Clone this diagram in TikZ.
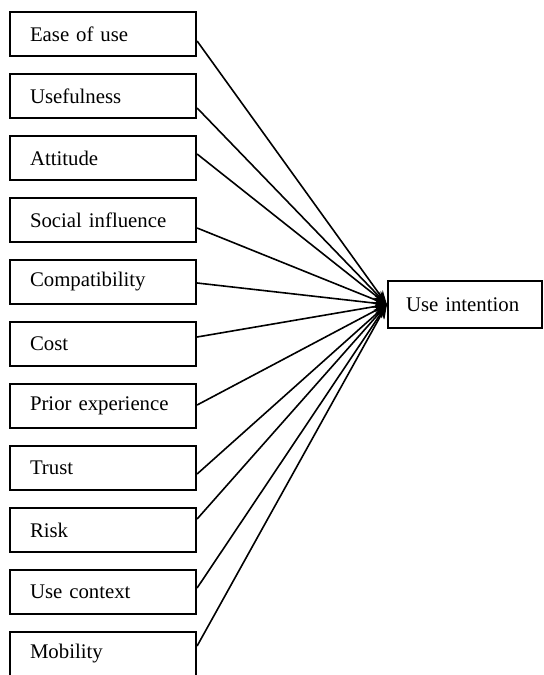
\documentclass[tikz,border=0pt]{standalone}
\usepackage{fontspec}
\setmainfont{Liberation Serif}
\usetikzlibrary{arrows.meta}

\begin{document}
\begin{tikzpicture}[
        x=0.5pt, y=-0.5pt,
        factor/.style={rectangle, draw, line width=1.1pt, minimum width=93pt, minimum height=22pt, inner xsep=10pt, text width=73pt, align=left, font=\fontsize{10.4}{12}\selectfont},
        outcome/.style={rectangle, draw, line width=1.1pt, minimum width=77pt, minimum height=23.5pt, inner xsep=9pt, text width=59pt, align=left, font=\fontsize{10.4}{12}\selectfont},
        arrow/.style={-{Stealth[length=7pt, width=5pt]}, line width=0.8pt}
    ]
        \clip (0,0) rectangle (544,675);

        \node[factor] (ease) at (103,34) {Ease of use};
        \node[factor] (usef) at (103,96) {Usefulness};
        \node[factor] (att) at (103,158) {Attitude};
        \node[factor] (soc) at (103,220) {Social influence};
        \node[factor] (comp) at (103,282) {Compatibility};
        \node[factor] (cost) at (103,344) {Cost};
        \node[factor] (prior) at (103,406) {Prior experience};
        \node[factor] (trust) at (103,468) {Trust};
        \node[factor] (risk) at (103,530) {Risk};
        \node[factor] (ctx) at (103,592) {Use context};
        \node[factor] (mob) at (103,654) {Mobility};

        \node[outcome] (ui) at (465,304.5) {Use intention};

        \draw[arrow] ([yshift=-3.5pt]ease.east) -- (ui.west);
        \draw[arrow] ([yshift=-6pt]usef.east) -- (ui.west);
        \draw[arrow] ([yshift=2pt]att.east) -- (ui.west);
        \draw[arrow] ([yshift=-4pt]soc.east) -- (ui.west);
        \draw[arrow] ([yshift=-0.5pt]comp.east) -- (ui.west);
        \draw[arrow] ([yshift=3.5pt]cost.east) -- (ui.west);
        \draw[arrow] ([yshift=0.5pt]prior.east) -- (ui.west);
        \draw[arrow] ([yshift=-3pt]trust.east) -- (ui.west);
        \draw[arrow] ([yshift=5.5pt]risk.east) -- (ui.west);
        \draw[arrow] ([yshift=2pt]ctx.east) -- (ui.west);
        \draw[arrow] ([yshift=4pt]mob.east) -- (ui.west);
    \end{tikzpicture}
\end{document}
